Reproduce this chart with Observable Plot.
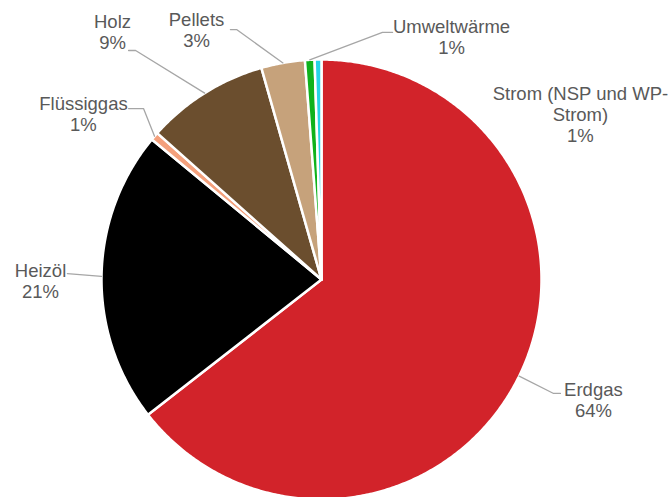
<!DOCTYPE html>
<html><head><meta charset="utf-8">
<script src="https://cdn.jsdelivr.net/npm/d3@7"></script>
<script src="https://cdn.jsdelivr.net/npm/@observablehq/plot@0.6"></script>
<style>html,body{margin:0;padding:0;background:#fff;overflow:hidden}</style>
</head><body><div id="chart"></div>
<script>
// ---- data ----
const categories = ["Erdgas", "Heizöl", "Flüssiggas", "Holz", "Pellets", "Umweltwärme", "Strom (NSP und WP-Strom)"];
const labelNames = ["Erdgas", "Heizöl", "Flüssiggas", "Holz", "Pellets", "Umweltwärme", "Strom (NSP und WP-\nStrom)"];
const shares = [64.4, 21.5, 0.6, 9.0, 3.2, 0.7, 0.5];
const percentLabels = ["64%", "21%", "1%", "9%", "3%", "1%", "1%"];
const colors = ["#d2232a", "#000000", "#f4a07c", "#6b4e2e", "#c6a27b", "#10b21c", "#25d4e6"];

// ---- layout (in pie-radius units, relative to the pie centre, y up) ----
const W = 669, H = 497, CX = 321, CY = 279, R = 220;
const labelPos = [[1.236, -0.623], [-1.277, -0.082], [-1.082, 0.673], [-0.95, 1.05], [-0.568, 1.055], [0.591, 1.027], [1.177, 0.623]];
const leaderBends = [
  [[1.055, -0.518], [1.086, -0.518]],
  [[-1.155, 0.027]],
  [[-0.809, 0.777], [-0.877, 0.777]],
  [[-0.845, 1.041], [-0.877, 1.041]],
  [[-0.386, 1.136], [-0.414, 1.136]],
  [[0.277, 1.123], [0.323, 1.123]],
  []
];

// ---- geometry from the values ----
const total = d3.sum(shares);
const slicePts = [], leaderPts = [], labels = [];
let acc = 0;
shares.forEach((v, i) => {
  const a0 = acc / total * 2 * Math.PI;
  acc += v;
  const a1 = acc / total * 2 * Math.PI;
  const name = categories[i];
  slicePts.push({name, x: 0, y: 0});
  const n = Math.max(2, Math.ceil((a1 - a0) / (Math.PI / 360)));
  for (let k = 0; k <= n; k++) {
    const a = a0 + (a1 - a0) * k / n;
    slicePts.push({name, x: Math.sin(a), y: Math.cos(a)});
  }
  const am = (a0 + a1) / 2;
  if (leaderBends[i].length) {
    leaderPts.push({name, x: Math.sin(am), y: Math.cos(am)});
    leaderBends[i].forEach(([x, y]) => leaderPts.push({name, x, y}));
  }
  labels.push({name, x: labelPos[i][0], y: labelPos[i][1], text: labelNames[i] + "\n" + percentLabels[i]});
});

const chart = Plot.plot({
  width: W, height: H, margin: 0,
  x: {domain: [-CX / R, (W - CX) / R], range: [0, W], axis: null},
  y: {domain: [-(H - CY) / R, CY / R], range: [H, 0], axis: null},
  color: {domain: categories, range: colors},
  style: {fontFamily: "'Liberation Sans', Arial, sans-serif", background: "#fff", overflow: "visible"},
  marks: [
    Plot.line(slicePts, {x: "x", y: "y", z: "name", fill: "name", stroke: "#fff", strokeWidth: 2.5, strokeLinejoin: "round", curve: "linear-closed"}),
    Plot.line(leaderPts, {x: "x", y: "y", z: "name", stroke: "#a6a6a6", strokeWidth: 1.3}),
    Plot.text(labels, {x: "x", y: "y", text: "text", lineAnchor: "bottom", textAnchor: "middle", fontSize: 18.5, lineHeight: 1.135, fill: "#595959"})
  ]
});
document.getElementById("chart").appendChild(chart);
</script>
</body></html>
